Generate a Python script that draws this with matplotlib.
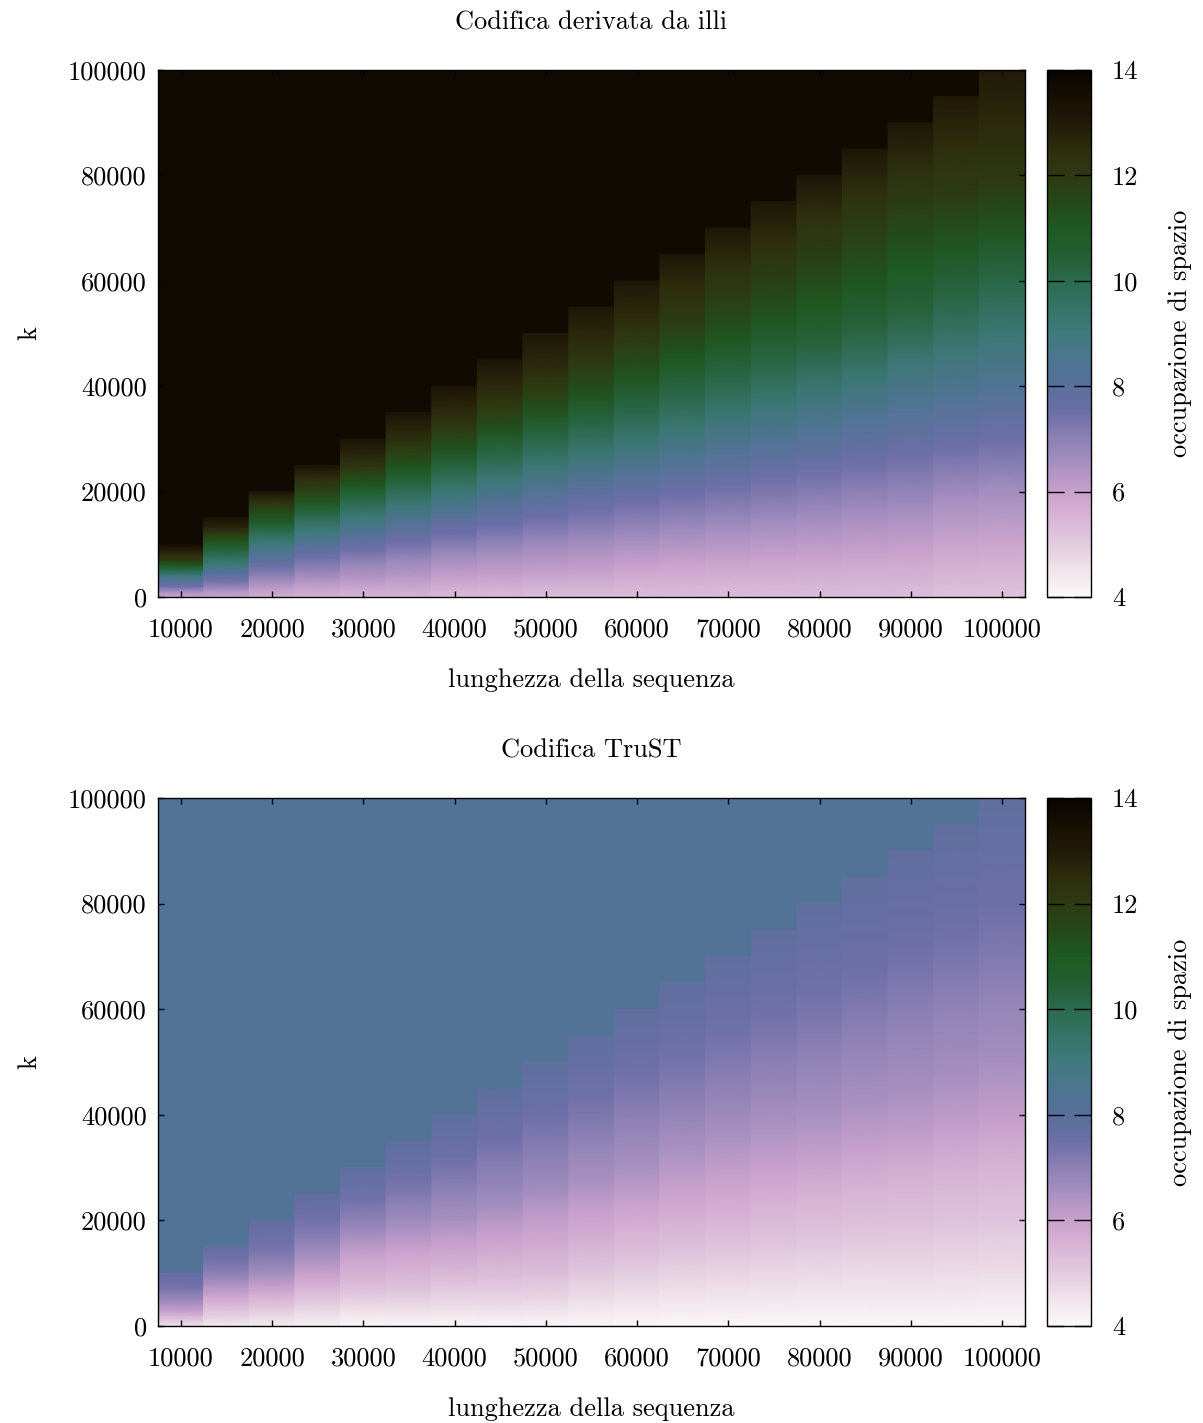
import matplotlib
matplotlib.use('Agg')
import matplotlib.pyplot as plt
import numpy as np
from matplotlib.colors import LinearSegmentedColormap, Normalize
from matplotlib.cm import ScalarMappable

plt.rcParams['font.family'] = ['cmr10', 'DejaVu Serif']
plt.rcParams['font.size'] = 19
plt.rcParams['axes.unicode_minus'] = False

# sequence lengths (one column each) and the k positions sampled inside every column,
# expressed as a fraction of the column length
lengths = [10000, 15000, 20000, 25000, 30000, 35000, 40000, 45000, 50000, 55000,
           60000, 65000, 70000, 75000, 80000, 85000, 90000, 95000, 100000]
k_fraction = [0.0, 0.1, 0.2, 0.3, 0.4, 0.5, 0.6, 0.7, 0.8, 0.9, 1.0]

# space usage, "Codifica derivata da illi"
illi_values = [
    [5.9, 6.5, 7.5, 8.1, 9.0, 10.0, 11.0, 12.0, 12.5, 13.0, 13.5],
    [5.9, 6.6, 7.4, 8.0, 9.0, 9.7, 10.4, 11.1, 12.0, 12.8, 13.3],
    [5.7, 6.3, 7.0, 7.6, 8.3, 9.0, 9.8, 10.7, 11.4, 12.3, 13.2],
    [5.6, 6.2, 6.9, 7.5, 8.2, 9.1, 9.9, 10.8, 11.7, 12.5, 13.3],
    [5.5, 6.2, 6.8, 7.5, 8.2, 9.1, 10.0, 11.0, 11.9, 12.7, 13.3],
    [5.5, 6.2, 6.8, 7.5, 8.2, 9.2, 10.1, 11.1, 11.9, 12.7, 13.3],
    [5.4, 6.1, 6.7, 7.5, 8.2, 9.2, 10.1, 11.2, 12.0, 12.7, 13.3],
    [5.4, 6.1, 6.7, 7.5, 8.2, 9.2, 10.1, 11.2, 12.0, 12.7, 13.2],
    [5.3, 6.1, 6.7, 7.5, 8.2, 9.2, 10.1, 11.2, 12.0, 12.7, 13.2],
    [5.3, 6.1, 6.7, 7.5, 8.2, 9.3, 10.2, 11.2, 12.0, 12.6, 13.2],
    [5.3, 6.0, 6.7, 7.5, 8.3, 9.3, 10.2, 11.2, 11.9, 12.6, 13.2],
    [5.3, 6.0, 6.7, 7.5, 8.3, 9.3, 10.2, 11.1, 11.9, 12.5, 13.2],
    [5.3, 6.0, 6.7, 7.5, 8.3, 9.3, 10.2, 11.1, 11.8, 12.5, 13.2],
    [5.3, 6.0, 6.7, 7.5, 8.3, 9.3, 10.2, 11.1, 11.8, 12.5, 13.2],
    [5.3, 6.0, 6.7, 7.5, 8.3, 9.3, 10.3, 11.1, 11.8, 12.4, 13.2],
    [5.3, 6.0, 6.7, 7.5, 8.3, 9.3, 10.3, 11.1, 11.7, 12.4, 13.2],
    [5.3, 6.0, 6.7, 7.5, 8.3, 9.2, 10.3, 11.0, 11.7, 12.4, 13.2],
    [5.2, 5.9, 6.6, 7.5, 8.3, 9.2, 10.2, 11.1, 11.9, 12.5, 13.1],
    [5.2, 5.9, 6.6, 7.5, 8.3, 9.2, 10.1, 11.2, 12.1, 12.6, 13.0],
]
illi_fill = 13.7  # value where k is above the sequence length

# space usage, "Codifica TruST"
trust_values = [
    [4.6, 5.0, 5.6, 6.1, 6.4, 6.8, 7.0, 7.3, 7.45, 7.55, 7.7],
    [4.4, 4.85, 5.2, 5.6, 6.0, 6.35, 6.75, 7.1, 7.35, 7.5, 7.7],
    [4.3, 4.8, 5.2, 5.7, 6.15, 6.6, 6.95, 7.25, 7.45, 7.6, 7.8],
    [4.2, 4.7, 5.15, 5.6, 6.0, 6.45, 6.85, 7.15, 7.4, 7.6, 7.8],
    [4.1, 4.6, 5.1, 5.5, 5.8, 6.25, 6.7, 7.1, 7.4, 7.65, 7.8],
    [4.1, 4.7, 5.2, 5.6, 5.95, 6.4, 6.8, 7.15, 7.45, 7.65, 7.85],
    [4.1, 4.7, 5.2, 5.65, 6.05, 6.5, 6.85, 7.2, 7.5, 7.7, 7.85],
    [4.1, 4.75, 5.25, 5.7, 6.1, 6.55, 6.9, 7.2, 7.5, 7.7, 7.9],
    [4.1, 4.8, 5.3, 5.75, 6.1, 6.55, 6.9, 7.2, 7.5, 7.7, 7.9],
    [4.1, 4.7, 5.2, 5.65, 6.05, 6.5, 6.85, 7.2, 7.45, 7.65, 7.85],
    [4.05, 4.65, 5.15, 5.6, 6.05, 6.5, 6.85, 7.15, 7.45, 7.65, 7.8],
    [4.05, 4.6, 5.1, 5.6, 6.0, 6.45, 6.85, 7.15, 7.45, 7.65, 7.8],
    [4.05, 4.6, 5.1, 5.6, 6.0, 6.45, 6.82, 7.15, 7.45, 7.65, 7.8],
    [4.05, 4.6, 5.1, 5.55, 6.0, 6.45, 6.85, 7.15, 7.45, 7.65, 7.8],
    [4.05, 4.6, 5.1, 5.55, 6.05, 6.5, 6.85, 7.2, 7.45, 7.65, 7.8],
    [4.05, 4.6, 5.1, 5.55, 6.05, 6.5, 6.85, 7.2, 7.5, 7.65, 7.8],
    [4.05, 4.65, 5.15, 5.55, 6.1, 6.55, 6.85, 7.2, 7.5, 7.65, 7.8],
    [4.05, 4.65, 5.15, 5.55, 6.1, 6.55, 6.85, 7.2, 7.5, 7.65, 7.8],
    [4.05, 4.65, 5.15, 5.55, 6.1, 6.55, 6.85, 7.2, 7.5, 7.65, 7.8],
]
trust_fill = 8.25

xticks = [10000, 20000, 30000, 40000, 50000, 60000, 70000, 80000, 90000, 100000]
yticks = [0, 20000, 40000, 60000, 80000, 100000]
cbar_ticks = [4, 6, 8, 10, 12, 14]

# palette (value -> colour), sampled from the colour box
palette_levels = [4.0, 4.5, 5.0, 5.5, 6.0, 6.5, 7.0, 7.5, 8.0, 8.5, 9.0, 9.5,
                  10.0, 10.5, 11.0, 11.5, 12.0, 12.5, 13.0, 13.5, 14.0]
palette_colors = ['#fcf8f9', '#f0e4ea', '#e2cade', '#d8b4d6', '#c8a0cc', '#a890c0',
                  '#8c80b4', '#6c6ea8', '#58709a', '#4c7690', '#3f7a7e', '#357466',
                  '#2b6a4e', '#245e32', '#1e5a22', '#24481a', '#2e3a12', '#2e2e0e',
                  '#221a08', '#170f03', '#0a0400']

vmin, vmax = 4, 14
positions = [(v - vmin) / (vmax - vmin) for v in palette_levels]
cmap = LinearSegmentedColormap.from_list('occupazione', list(zip(positions, palette_colors)))
norm = Normalize(vmin, vmax)

fig = plt.figure(figsize=(12.03, 14.23), dpi=100)


def draw_panel(ax_rect, cax_rect, title, values, fill):
    ax = fig.add_axes(ax_rect)
    # background for k larger than the sequence
    ax.pcolormesh([7500, 102500], [0, 100000], [[fill]], cmap=cmap, norm=norm)
    half = 2500
    for n, col in zip(lengths, values):
        ks = np.array(k_fraction) * n
        X = np.column_stack([np.full(len(ks), n - half), np.full(len(ks), n + half)])
        Y = np.column_stack([ks, ks])
        C = np.column_stack([col, col])
        ax.pcolormesh(X, Y, C, shading='gouraud', cmap=cmap, norm=norm)

    ax.set_xlim(7500, 102500)
    ax.set_ylim(0, 100000)
    ax.set_xticks(xticks, labels=[str(t) for t in xticks])
    ax.set_yticks(yticks, labels=[str(t) for t in yticks])
    ax.tick_params(direction='in', length=4, width=1, top=True, right=True)
    ax.tick_params(axis='x', pad=15)
    ax.tick_params(axis='y', pad=8)
    for s in ax.spines.values():
        s.set_linewidth(1.0)

    ax.set_title(title, pad=29, fontsize=19)
    ax.set_xlabel('lunghezza della sequenza')
    ax.set_ylabel('k')
    ax.xaxis.set_label_coords(0.5, -0.135)
    ax.yaxis.set_label_coords(-0.135, 0.5)

    cax = fig.add_axes(cax_rect)
    cb = fig.colorbar(ScalarMappable(norm=norm, cmap=cmap), cax=cax)
    cb.set_ticks(cbar_ticks, labels=[str(t) for t in cbar_ticks])
    cb.ax.tick_params(direction='in', length=12, width=1, left=True, right=True,
                      labelleft=False, labelright=True, pad=15)
    cb.outline.set_linewidth(1.0)
    cb.set_label('occupazione di spazio')
    cb.ax.yaxis.set_label_coords(2.75, 0.5)
    return ax


draw_panel([0.1313, 0.5805, 0.7207, 0.3703], [0.8703, 0.5805, 0.0366, 0.3703],
           'Codifica derivata da illi', illi_values, illi_fill)
draw_panel([0.1313, 0.0682, 0.7207, 0.3710], [0.8703, 0.0682, 0.0366, 0.3710],
           'Codifica TruST', trust_values, trust_fill)

fig.savefig('out.png', dpi=100)
